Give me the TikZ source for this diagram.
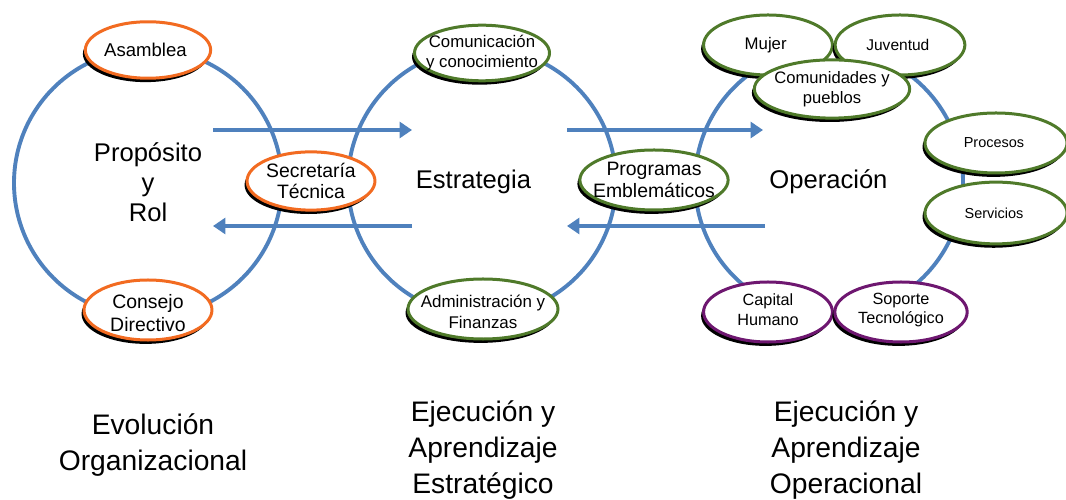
\documentclass[tikz,border=0pt]{standalone}
\usepackage{fontspec}
\setmainfont{Liberation Sans}
\usetikzlibrary{shapes.geometric, shadows, arrows.meta}
\definecolor{ringblue}{HTML}{4F81BD}
\definecolor{orangeline}{HTML}{F26B21}
\definecolor{greenline}{HTML}{4F7A2A}
\definecolor{purpleline}{HTML}{6E1770}

\begin{document}
\begin{tikzpicture}[x = 0.5666pt, y = -0.5666pt,
    ring/.style = { draw = ringblue, line width = 2.2pt },
    flow/.style = { draw = ringblue, line width = 2.3pt, -{Triangle[length = 7pt, width = 9pt]} },
    bubble/.style 2 args = { ellipse, fill = white, line width = 1.7pt, inner sep = 0pt,
      minimum width = #1, minimum height = #2,
      drop shadow={fill=black,opacity=1,shadow xshift=-1.4pt,shadow yshift=-2.2pt} },
    orangebub/.style 2 args = { bubble = {#1}{#2}, draw = orangeline },
    greenbub/.style 2 args = { bubble = {#1}{#2}, draw = greenline },
    purplebub/.style 2 args = { bubble = {#1}{#2}, draw = purpleline },
    txt/.style 2 args = { align = center, inner sep = 0pt, font = \fontsize{#1}{#2}\selectfont }
  ]
  \useasboundingbox (0,0) rectangle (1066,500);

  % the three rings
  \draw[ring] (148,183) circle (134);
  \draw[ring] (482,182) circle (134);
  \draw[ring] (829,182) circle (134);

  % flows between the rings
  \coordinate (out1) at (213,130);
  \coordinate (in1)  at (412,130);
  \coordinate (out2) at (412,226);
  \coordinate (in2)  at (213,226);
  \coordinate (out3) at (567,130);
  \coordinate (in3)  at (763,130);
  \coordinate (out4) at (765,226);
  \coordinate (in4)  at (567,226);
  \draw[flow] (out1) -- (in1);
  \draw[flow] (out2) -- (in2);
  \draw[flow] (out3) -- (in3);
  \draw[flow] (out4) -- (in4);

  \node[txt = {14.5pt}{17pt}] (proposito) at (148,182) { Propósito \\ y \\ Rol };
  \node[txt = {14.5pt}{17pt}] (estrategia) at (477,182) { Estrategia };
  \node[txt = {14.5pt}{17pt}] (operacion) at (832,182) { Operación };

  % first ring
  \node[orangebub = {71pt}{32pt}] (asamblea) at (148,50) {};
  \node[txt = {10.5pt}{12pt}] (asamblea-t) at (asamblea) { Asamblea };
  \node[orangebub = {72.5pt}{33pt}] (secretaria) at (311,181) {};
  \node[txt = {11pt}{12pt}] (secretaria-t) at (secretaria) { Secretaría \\ Técnica };
  \node[orangebub = {72.5pt}{34pt}] (consejo) at (148,310) {};
  \node[txt = {11pt}{13.5pt}] (consejo-t) at (148,313) { Consejo \\ Directivo };

  % second ring
  \node[greenbub = {76.5pt}{31.5pt}] (comunicacion) at (482,53) {};
  \node[txt = {9.5pt}{11.3pt}] (comunicacion-t) at (comunicacion) { Comunicación \\ y conocimiento };
  \node[greenbub = {85pt}{34pt}] (administracion) at (483,309) {};
  \node[txt = {9.6pt}{12pt}] (administracion-t) at (483,312) { Administración y \\ Finanzas };
  \node[greenbub = {84pt}{34pt}] (programas) at (654,180) {};
  \node[txt = {11pt}{12.5pt}] (programas-t) at (programas) { Programas \\ Emblemáticos };

  % third ring
  \node[greenbub = {73pt}{34pt}] (mujer) at (768,45) {};
  \node[txt = {9.5pt}{11pt}] (mujer-t) at (mujer) { Mujer };
  \node[greenbub = {73.5pt}{34pt}] (juventud) at (900,45) {};
  \node[txt = {8.8pt}{11pt}] (juventud-t) at (juventud) { Juventud };
  \node[greenbub = {88pt}{33pt}] (comunidades) at (832,89) {};
  \node[txt = {9.4pt}{11.3pt}] (comunidades-t) at (comunidades) { Comunidades y \\ pueblos };
  \node[greenbub = {80.5pt}{34pt}] (procesos) at (996,143) {};
  \node[txt = {8.2pt}{10pt}] (procesos-t) at (procesos) { Procesos };
  \node[greenbub = {80.5pt}{35pt}] (servicios) at (996,213) {};
  \node[txt = {8.2pt}{10pt}] (servicios-t) at (servicios) { Servicios };
  \node[purplebub = {73pt}{34pt}] (capital) at (768,312) {};
  \node[txt = {9.2pt}{11.3pt}] (capital-t) at (768,310) { Capital \\ Humano };
  \node[purplebub = {75pt}{34pt}] (soporte) at (901,312) {};
  \node[txt = {9.2pt}{11.3pt}] (soporte-t) at (901,310) { Soporte \\ Tecnológico };

  % captions
  \node[txt = {16pt}{20.5pt}] (evolucion) at (153,445) { Evolución \\ Organizacional };
  \node[txt = {16pt}{20.5pt}] (estrategico) at (483,450) { Ejecución y \\ Aprendizaje \\ Estratégico };
  \node[txt = {16pt}{20.5pt}] (operacional) at (846,450) { Ejecución y \\ Aprendizaje \\ Operacional };
\end{tikzpicture}
\end{document}
